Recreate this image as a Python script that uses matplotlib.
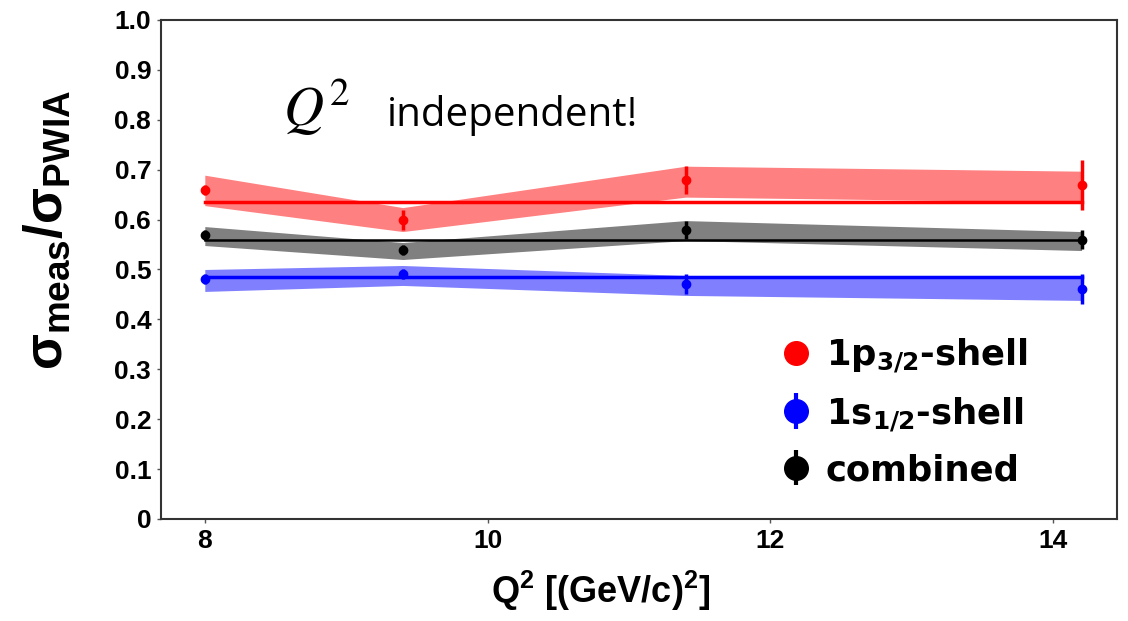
import matplotlib
matplotlib.use("Agg")
import matplotlib.pyplot as plt

# Q^2 settings (GeV/c)^2
q2 = [8.0, 9.4, 11.4, 14.2]

# 1p3/2 shell
p_vals = [0.66, 0.60, 0.68, 0.67]
p_err = [0.010, 0.020, 0.028, 0.050]
p_band_lo = [0.628, 0.576, 0.645, 0.635]
p_band_hi = [0.689, 0.624, 0.707, 0.697]
p_fit = 0.635

# 1s1/2 shell
s_vals = [0.48, 0.49, 0.47, 0.46]
s_err = [0.010, 0.010, 0.020, 0.030]
s_band_lo = [0.456, 0.468, 0.448, 0.438]
s_band_hi = [0.500, 0.508, 0.488, 0.488]
s_fit = 0.485

# combined
c_vals = [0.57, 0.54, 0.58, 0.56]
c_err = [0.010, 0.010, 0.018, 0.019]
c_band_lo = [0.548, 0.520, 0.558, 0.538]
c_band_hi = [0.586, 0.554, 0.598, 0.576]
c_fit = 0.560

y_ticks = [0, 0.1, 0.2, 0.3, 0.4, 0.5, 0.6, 0.7, 0.8, 0.9, 1.0]
y_labels = ["0", "0.1", "0.2", "0.3", "0.4", "0.5", "0.6", "0.7", "0.8", "0.9", "1.0"]
x_ticks = [8, 10, 12, 14]

plt.rcParams["mathtext.fontset"] = "custom"
plt.rcParams["mathtext.rm"] = "Liberation Sans:bold"
plt.rcParams["mathtext.it"] = "Liberation Sans:bold"
plt.rcParams["mathtext.bf"] = "DejaVu Sans:bold"

fig = plt.figure(figsize=(11.28, 6.21), dpi=100)
ax = fig.add_axes([0.1427, 0.1643, 0.8475, 0.8035])

# bands
ax.fill_between(q2, p_band_lo, p_band_hi, color="#ff8080", lw=0, zorder=1)
ax.fill_between(q2, c_band_lo, c_band_hi, color="#808080", lw=0, zorder=1)
ax.fill_between(q2, s_band_lo, s_band_hi, color="#8080ff", lw=0, zorder=1)

# constant fits
ax.plot([q2[0], q2[-1]], [p_fit, p_fit], color="red", lw=2.5, zorder=2)
ax.plot([q2[0], q2[-1]], [c_fit, c_fit], color="black", lw=1.8, zorder=2)
ax.plot([q2[0], q2[-1]], [s_fit, s_fit], color="blue", lw=2.5, zorder=2)

# data points
ax.errorbar(q2, p_vals, yerr=p_err, fmt="o", color="red", ms=6, elinewidth=2.5, zorder=3)
ax.errorbar(q2, s_vals, yerr=s_err, fmt="o", color="blue", ms=6, elinewidth=2.5, zorder=3)
ax.errorbar(q2, c_vals, yerr=c_err, fmt="o", color="black", ms=6, elinewidth=2.5, zorder=3)

# legend handles (red shown without bar)
h1, = ax.plot([], [], "o", color="red", ms=17)
h2 = ax.errorbar([], [], yerr=[], fmt="o", color="blue", ms=17, elinewidth=3)
h3 = ax.errorbar([], [], yerr=[], fmt="o", color="black", ms=17, elinewidth=3)
leg = ax.legend([h1, h2, h3],
                [r"1p$_{\mathbf{3/2}}$-shell", r"1s$_{\mathbf{1/2}}$-shell", "combined"],
                loc="lower right", bbox_to_anchor=(0.94, 0.0), frameon=False,
                prop={"family": "DejaVu Sans", "weight": "bold", "size": 25.5},
                handletextpad=0.35, labelspacing=0.55, handlelength=1.0)

ax.set_xlim(7.69, 14.45)
ax.set_ylim(0, 1.0)
ax.set_yticks(y_ticks)
ax.set_yticklabels(y_labels)
ax.set_xticks(x_ticks)
for lab in ax.get_xticklabels() + ax.get_yticklabels():
    lab.set_family("Liberation Sans")
    lab.set_weight("bold")
    lab.set_fontsize(19)
ax.tick_params(direction="out", length=3, width=1, color="#555555", pad=4)
for sp in ax.spines.values():
    sp.set_color("#333333")
    sp.set_linewidth(1.5)

ax.set_xlabel(r"Q$^2$ [(GeV/c)$^2$]", fontsize=26, fontweight="bold",
              family="Liberation Sans")
ax.xaxis.set_label_coords(0.46, -0.10)
ax.set_ylabel(r"$σ_{\mathrm{meas}}$/$σ_{\mathrm{PWIA}}$", fontsize=38,
              fontweight="bold", family="Liberation Sans")
ax.yaxis.set_label_coords(-0.092, 0.58)

# annotation
fig.text(283 / 1128, 1 - 126 / 621, r"$Q^2$", fontsize=40, math_fontfamily="stix")
fig.text(387 / 1128, 1 - 126 / 621, "independent!", fontsize=29, family="Open Sans")

fig.savefig("out.png", dpi=100)
